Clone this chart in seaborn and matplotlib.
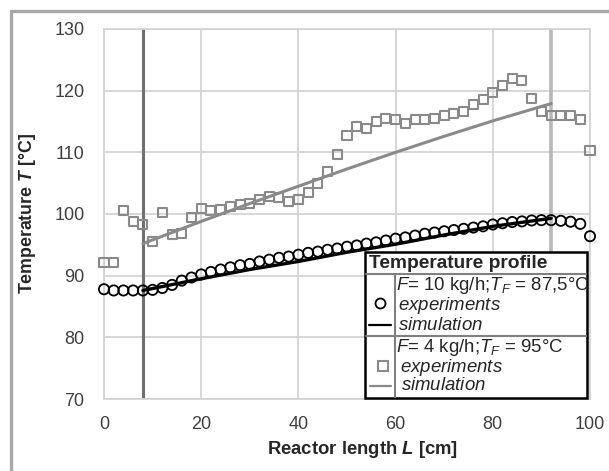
import numpy as np
import pandas as pd
import matplotlib
matplotlib.use("Agg")
import matplotlib.pyplot as plt
import seaborn as sns
from matplotlib.lines import Line2D
from matplotlib.patches import Rectangle

# reactor positions of the measurements [cm]
pos = list(range(0, 101, 2))

# F = 10 kg/h, T_F = 87.5 °C
t_exp_10 = [87.8, 87.6, 87.6, 87.6, 87.6, 87.7, 88.0, 88.5, 89.2, 89.7,
            90.2, 90.6, 91.0, 91.35, 91.7, 91.9, 92.3, 92.6, 92.9, 93.1,
            93.4, 93.7, 93.9, 94.2, 94.4, 94.7, 94.9, 95.2, 95.4, 95.7,
            96.0, 96.2, 96.5, 96.8, 97.0, 97.2, 97.4, 97.6, 97.8, 98.0,
            98.3, 98.5, 98.7, 98.8, 98.95, 99.0, 99.0, 98.9, 98.75, 98.4,
            96.4]
sim_pos_10 = [8, 20, 30, 40, 50, 60, 70, 80, 92]
t_sim_10 = [87.6, 89.5, 91.0, 92.3, 93.8, 95.1, 96.6, 98.0, 99.3]

# F = 4 kg/h, T_F = 95 °C
t_exp_4 = [92.2, 92.2, 100.5, 98.75, 98.3, 95.5, 100.3, 96.7, 96.9, 99.4,
           100.9, 100.5, 100.65, 101.2, 101.6, 101.7, 102.3, 102.9, 102.7, 102.0,
           102.4, 103.5, 104.9, 106.9, 109.7, 112.8, 114.2, 113.9, 115.0, 115.5,
           115.35, 114.7, 115.35, 115.25, 115.5, 116.05, 116.3, 116.6, 117.7, 118.6,
           119.7, 120.9, 121.9, 121.7, 118.65, 116.7, 116.05, 116.05, 115.95, 115.25,
           110.3]
sim_pos_4 = [8, 20, 30, 40, 50, 60, 70, 80, 92]
t_sim_4 = [95.2, 98.8, 101.7, 104.5, 107.3, 110.0, 112.6, 115.1, 117.9]

# reactor zone boundaries [cm]
zone_start, zone_end = 8, 92

sns.set_theme(style="white")
plt.rcParams["font.family"] = ["Liberation Sans", "DejaVu Sans"]
plt.rcParams["mathtext.fontset"] = "custom"
plt.rcParams["mathtext.rm"] = "Liberation Sans"
plt.rcParams["mathtext.it"] = "Liberation Sans:italic"
plt.rcParams["mathtext.bf"] = "Liberation Sans:bold"
plt.rcParams["mathtext.bfit"] = "Liberation Sans:bold:italic"

W, H = 609, 471
fig = plt.figure(figsize=(W / 100, H / 100), dpi=100)
ax = fig.add_axes([104 / W, 1 - 399 / H, 486 / W, 370 / H])

black = "#000000"
gray = "#8a8a8a"

exp_10 = pd.DataFrame({"L": pos, "T": t_exp_10})
exp_4 = pd.DataFrame({"L": pos, "T": t_exp_4})
sim_10 = pd.DataFrame({"L": sim_pos_10, "T": t_sim_10})
sim_4 = pd.DataFrame({"L": sim_pos_4, "T": t_sim_4})

ax.grid(True, color="#d4d4d4", lw=1.3)
ax.set_axisbelow(True)

ax.axvline(zone_start, color="#707070", lw=2.2, zorder=1)
ax.axvline(zone_end, color="#b8b8b8", lw=2.6, zorder=1)

sns.scatterplot(data=exp_4, x="L", y="T", ax=ax, marker="s", s=42,
                facecolor="none", edgecolor=gray, linewidth=1.5,
                clip_on=False, zorder=3)
sns.lineplot(data=sim_4, x="L", y="T", ax=ax, color=gray, lw=2.2, zorder=2)
sns.scatterplot(data=exp_10, x="L", y="T", ax=ax, marker="o", s=54,
                facecolor="none", edgecolor=black, linewidth=1.3,
                clip_on=False, zorder=3)
sns.lineplot(data=sim_10, x="L", y="T", ax=ax, color=black, lw=2.4, zorder=2)

ax.set_xlim(0, 100)
ax.set_ylim(70, 130)
ax.set_xticks(range(0, 101, 20))
ax.set_yticks(range(70, 131, 10))
ax.tick_params(axis="both", labelsize=13, colors="#404040", length=0)
ax.tick_params(axis="y", pad=14)
ax.tick_params(axis="x", pad=12)
for sp in ax.spines.values():
    sp.set_color("#d4d4d4")
    sp.set_linewidth(1.3)

ax.set_xlabel(r"Reactor length $\mathbfit{L}$ [cm]", fontsize=13.3,
              fontweight="bold")
ax.set_ylabel(r"Temperature $\mathbfit{T}$ [°C]", fontsize=12.8,
              fontweight="bold")
ax.xaxis.set_label_coords(0.533, -0.108)
ax.yaxis.set_label_coords(-0.136, 0.5)


def fx(px):
    return px / W


def fy(py):
    return 1 - py / H


# outer chart frame
fig.add_artist(Line2D([fx(11), fx(11)], [fy(11), fy(480)], color="#a8a8a8", lw=2.4))
fig.add_artist(Line2D([fx(11), fx(620)], [fy(11), fy(11)], color="#a8a8a8", lw=2.4))

# legend table
x0, x1, xm = 365, 587, 395
y0, y1 = 252, 398
fig.add_artist(Rectangle((fx(x0), fy(y1)), fx(x1 - x0), (y1 - y0) / H,
                         facecolor="white", edgecolor=black, lw=1.8, zorder=5))
for yl in (273.5, 336):
    fig.add_artist(Line2D([fx(x0 + 1), fx(x1 - 1)], [fy(yl), fy(yl)],
                          color="#808080", lw=1.5, zorder=6))
fig.add_artist(Line2D([fx(xm), fx(xm)], [fy(274), fy(y1 - 1)],
                      color="#808080", lw=1.5, zorder=6))
fig.text(fx(369), fy(263), "Temperature profile", fontsize=13.8,
         fontweight="bold", va="center", zorder=7)

fig.add_artist(Line2D([fx(380)], [fy(303)], marker="o", ms=7.2, mfc="none",
                      mec=black, mew=1.3, zorder=7))
fig.add_artist(Line2D([fx(369), fx(391)], [fy(325), fy(325)], color=black,
                      lw=1.6, zorder=7))
fig.add_artist(Line2D([fx(382.5)], [fy(366)], marker="s", ms=6.5, mfc="none",
                      mec=gray, mew=1.5, zorder=7))
fig.add_artist(Line2D([fx(370), fx(391)], [fy(386), fy(386)], color=gray,
                      lw=1.6, zorder=7))

rows = [
    (286, r"$F$= 10 kg/h;$T_F$ = 87,5°C", 396),
    (305, r"$experiments$", 398),
    (325, r"$simulation$", 398),
    (348, r"$F$= 4 kg/h;$T_F$ = 95°C", 396),
    (367, r"$experiments$", 400),
    (386, r"$simulation$", 401),
]
for yy, txt, xx in rows:
    fig.text(fx(xx), fy(yy), txt, fontsize=13.4, va="center", zorder=7)

fig.savefig("out.png", dpi=100)
